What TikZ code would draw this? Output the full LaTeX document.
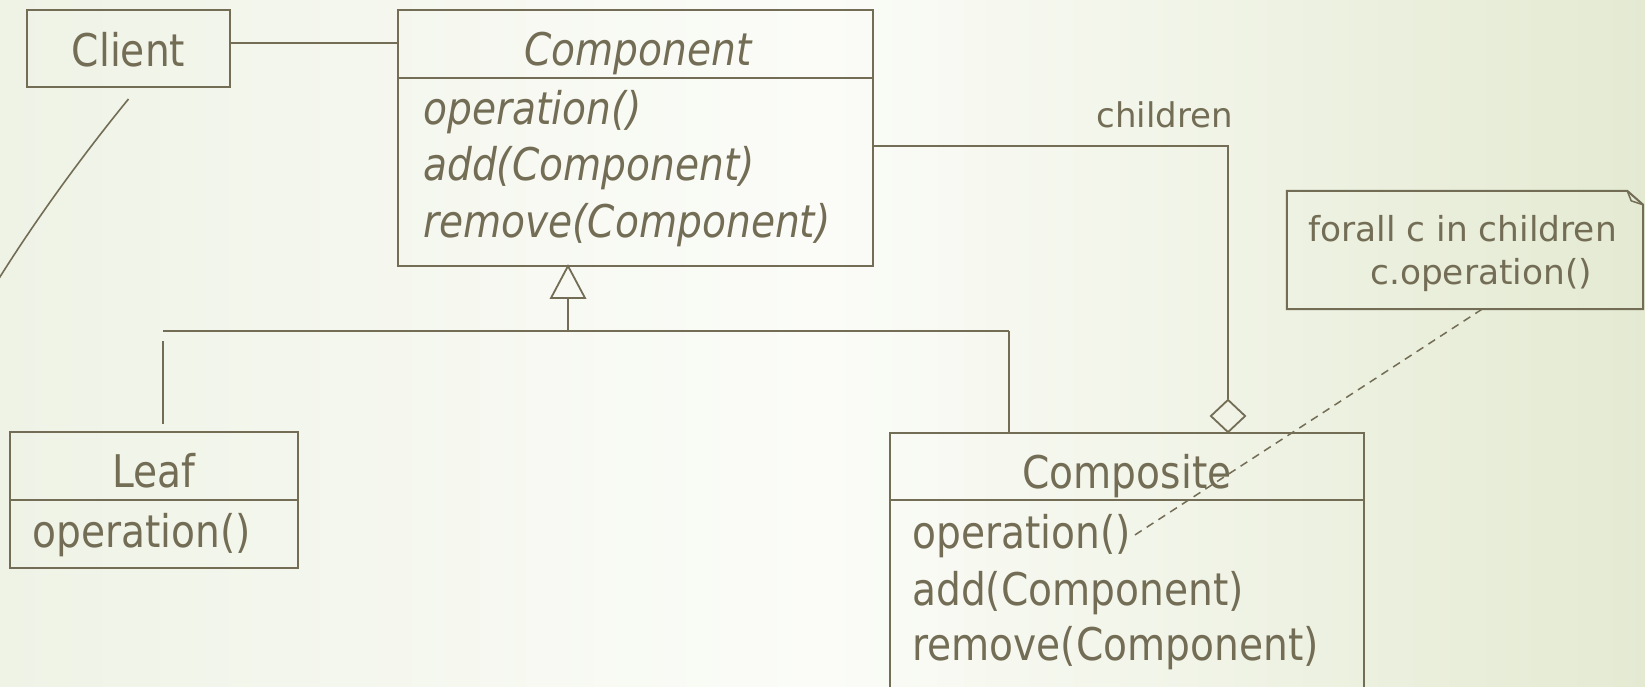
\documentclass[tikz,border=0pt]{standalone}
\usepackage{fontspec}
\setmainfont{DejaVu Sans}[FakeStretch=0.87]
\newfontfamily\notefont{DejaVu Sans}
\usetikzlibrary{shapes.geometric}
\definecolor{ink}{HTML}{736D55}
\definecolor{bgL}{HTML}{EFF3E6}
\definecolor{bgM}{HTML}{FBFCF8}
\definecolor{bgR}{HTML}{E4EAD2}
\tikzset{
  cls/.style={draw=ink, line width=2pt, inner sep=0pt, outer sep=0pt},
  lbl/.style={text=ink, inner sep=0pt, font=\fontsize{45}{54}\selectfont},
  itl/.style={text=ink, inner sep=0pt, font=\fontsize{45}{54}\selectfont\itshape},
  ntxt/.style={text=ink, inner sep=0pt, font=\notefont\fontsize{34.4}{41}\selectfont},
  conn/.style={draw=ink, line width=1.8pt},
  dconn/.style={draw=ink, line width=1.5pt, dash pattern=on 8pt off 6pt},
}
\begin{document}
\begin{tikzpicture}[x=1pt,y=-1pt]
\useasboundingbox (0,0) rectangle (1645,686);
\shade[left color=bgL,right color=bgR,middle color=bgM] (0,0) rectangle (1645,686);
\clip (0,0) rectangle (1645,686);

% Client
\node[cls, minimum width=203pt, minimum height=77pt] (client) at (128.5,48.5) {};
\node[lbl, anchor=base] (clientt) at (128.5,66) {Client};

% Component
\node[cls, minimum width=475pt, minimum height=256pt] (component) at (635.5,138) {};
\draw[cls] (component.west |- 0,78) -- (component.east |- 0,78);
\node[itl, anchor=base] (compt) at (638,65) {Component};
\node[itl, anchor=base west] (cop) at (423,124) {operation()};
\node[itl, anchor=base west] (cadd) at (423,180) {add(Component)};
\node[itl, anchor=base west] (crem) at (423,237) {remove(Component)};

% Leaf
\node[cls, minimum width=288pt, minimum height=136pt] (leaf) at (154,500) {};
\draw[cls] (leaf.west |- 0,500) -- (leaf.east |- 0,500);
\node[lbl, anchor=base] (leaft) at (154,487) {Leaf};
\node[lbl, anchor=base west] (leafop) at (32,547) {operation()};

% Composite
\node[cls, minimum width=474pt, minimum height=287pt] (composite) at (1127,576.5) {};
\draw[cls] (composite.west |- 0,500) -- (composite.east |- 0,500);
\node[lbl, anchor=base] (compot) at (1127,488) {Composite};
\node[lbl, anchor=base west] (compop) at (912,548) {operation()};
\node[lbl, anchor=base west] (compadd) at (912,605) {add(Component)};
\node[lbl, anchor=base west] (comprem) at (912,660) {remove(Component)};

% Note
\node[inner sep=0pt, minimum width=356pt, minimum height=118pt] (note) at (1465,250) {};
\draw[cls] (note.south west) -- (note.north west) -- ([xshift=-16pt]note.north east)
  -- ([yshift=-14pt]note.north east) -- (note.south east) -- cycle;
\draw[draw=ink, line width=1.5pt] ([xshift=-16pt]note.north east) -- ([xshift=-12pt,yshift=-10pt]note.north east) -- ([yshift=-14pt]note.north east);
\node[ntxt, anchor=base west] (note1) at (1308,241) {forall c in children};
\node[ntxt, anchor=base west] (note2) at (1370,284) {c.operation()};

% Client -- Component
\draw[conn] (client.east |- 0,43) -- (component.west |- 0,43);

% Client curve going off the left edge
\coordinate (offL) at (-2,280);
\draw[draw=ink, line width=1.6pt] ([yshift=-12pt]client.south) .. controls (95,140) and (45,205) .. (offL);

% aggregation: Component -- children -- Composite
\node[diamond, draw=ink, line width=1.8pt, inner sep=0pt, minimum width=35pt, minimum height=33pt] (dia) at (1228,416) {};
\draw[conn] (component.east |- 0,146) -| (dia.north);
\node[text=ink, inner sep=0pt, font=\notefont\fontsize{34}{41}\selectfont, anchor=base] (childl) at (1164.5,127) {children};

% generalization
\coordinate (tapex) at (568,266);
\coordinate (tbase) at (568,298);
\coordinate (hub) at (568,331);
\coordinate (hubL) at (163,331);
\coordinate (hubR) at (1009,331);
\draw[conn, line join=miter] (tapex) -- ++(-17,32) -- ++(34,0) -- cycle;
\draw[conn] (tbase) -- (hub);
\draw[conn] (hubL) -- (hubR);
\draw[conn] (hubR) -- (hubR |- composite.north);
\coordinate (lt) at (163,341);
\coordinate (lb) at (163,424);
\draw[conn] (lt) -- (lb);

% note link
\draw[dconn] ([xshift=17pt]note.south) -- ([xshift=3pt]compop.east);
\end{tikzpicture}
\end{document}
